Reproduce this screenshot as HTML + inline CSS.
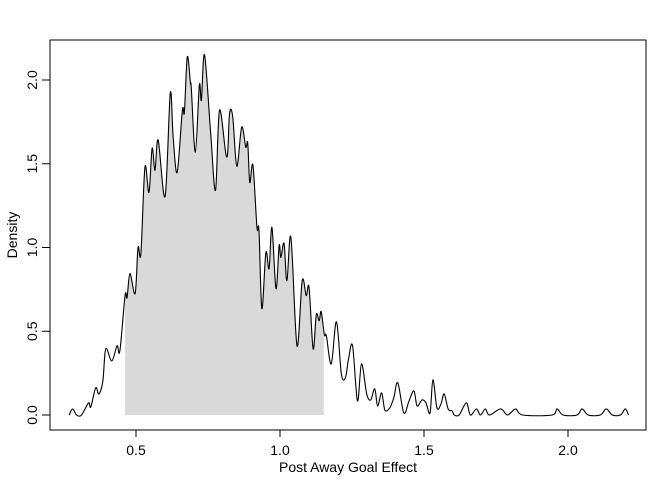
<!DOCTYPE html>
<html><head><meta charset="utf-8"><style>
body{margin:0;background:#fff}
svg{display:block;font-family:"Liberation Sans",Arial,sans-serif}
</style></head><body>
<svg id="chart" width="672" height="480" viewBox="0 0 672 480">
<defs><clipPath id="shadeClip"><rect id="clipRect" x="0" y="0" width="0" height="480"/></clipPath></defs>
<g id="shade" clip-path="url(#shadeClip)"></g>
<g id="marks"></g>
<rect x="50" y="40" width="596" height="390" fill="none" stroke="#000" stroke-width="1"/>
<g id="axes"></g>
<text x="348" y="472" font-size="14" text-anchor="middle">Post Away Goal Effect</text>
<text transform="translate(17,235) rotate(-90)" font-size="14" text-anchor="middle">Density</text>
</svg>
<script>
const effectValues=[0.268,0.280,0.294,0.311,0.335,0.343,0.360,0.371,0.385,0.395,0.416,0.434,0.444,0.462,0.469,0.479,0.497,0.507,0.517,0.531,0.545,0.556,0.566,0.577,0.601,0.619,0.629,0.643,0.661,0.668,0.678,0.689,0.692,0.706,0.720,0.727,0.738,0.759,0.776,0.790,0.815,0.825,0.836,0.850,0.867,0.881,0.888,0.895,0.906,0.920,0.927,0.937,0.951,0.962,0.972,0.986,0.997,1.003,1.014,1.024,1.038,1.059,1.077,1.091,1.101,1.115,1.126,1.136,1.143,1.154,1.161,1.178,1.196,1.213,1.227,1.238,1.252,1.269,1.283,1.301,1.315,1.329,1.339,1.353,1.364,1.381,1.395,1.409,1.430,1.448,1.465,1.476,1.493,1.507,1.521,1.531,1.545,1.559,1.570,1.584,1.598,1.605,1.622,1.647,1.661,1.682,1.696,1.713,1.727,1.766,1.790,1.818,1.843,1.944,1.962,1.983,2.031,2.049,2.070,2.112,2.133,2.154,2.182,2.199,2.210];
const densityValues=[0,0.036,0,0,0.072,0.048,0.162,0.126,0.204,0.395,0.323,0.413,0.383,0.713,0.701,0.844,0.725,1.0,0.964,1.479,1.329,1.593,1.461,1.641,1.305,1.922,1.659,1.449,1.820,1.808,2.138,1.982,1.952,1.569,1.970,1.880,2.150,1.689,1.341,1.820,1.539,1.802,1.778,1.485,1.719,1.599,1.623,1.389,1.491,1.120,1.102,0.635,0.970,0.874,1.120,0.754,1.012,0.940,1.024,0.802,1.060,0.413,0.802,0.713,0.760,0.395,0.599,0.563,0.617,0.479,0.473,0.305,0.557,0.246,0.222,0.335,0.413,0.084,0.305,0.126,0.090,0.156,0.054,0.132,0.030,0.042,0.102,0.192,0.012,0.084,0.144,0.054,0.090,0.072,0.012,0.210,0.042,0.066,0.126,0.036,0.024,0,0,0.072,0,0.036,0,0.036,0,0.036,0,0.036,0,0,0.036,0,0,0.036,0,0,0.036,0,0,0.036,0];
const shadeRange=[0.462,1.152];
const xTicks=[0.5,1.0,1.5,2.0];
const yTicks=[0,0.5,1.0,1.5,2.0];
const yTickLabels=["0.0","0.5","1.0","1.5","2.0"];
const xTickLabels=["0.5","1.0","1.5","2.0"];

const NS="http://www.w3.org/2000/svg";
function xs(v){return -8+288*v;}
function ys(d){return 415-167.5*d;}
function mk(tag,attrs,parent){const e=document.createElementNS(NS,tag);for(const k in attrs)e.setAttribute(k,attrs[k]);parent.appendChild(e);return e;}
const pts=effectValues.map((v,i)=>[xs(v),ys(densityValues[i])]);
function spline(p){let d="M"+p[0][0].toFixed(2)+","+p[0][1].toFixed(2);
 for(let i=0;i<p.length-1;i++){const p0=p[Math.max(0,i-1)],p1=p[i],p2=p[i+1],p3=p[Math.min(p.length-1,i+2)];
  const c1=[p1[0]+(p2[0]-p0[0])/6,p1[1]+(p2[1]-p0[1])/6],c2=[p2[0]-(p3[0]-p1[0])/6,p2[1]-(p3[1]-p1[1])/6];
  d+="C"+c1[0].toFixed(2)+","+c1[1].toFixed(2)+" "+c2[0].toFixed(2)+","+c2[1].toFixed(2)+" "+p2[0].toFixed(2)+","+p2[1].toFixed(2);}
 return d;}
const curveD=spline(pts);
const cr=document.getElementById('clipRect');
cr.setAttribute('x',xs(shadeRange[0]));cr.setAttribute('width',xs(shadeRange[1])-xs(shadeRange[0]));
const area=mk('path',{d:curveD+"L"+pts[pts.length-1][0]+","+ys(0)+"L"+pts[0][0]+","+ys(0)+"Z",fill:"#d9d9d9",stroke:"none"},document.getElementById('shade'));


const line=mk('path',{d:curveD,fill:"none",stroke:"#000","stroke-width":"1.1"},document.getElementById('marks'));


const ax=document.getElementById('axes');
const xa=mk('line',{x1:xs(xTicks[0]),x2:xs(xTicks[xTicks.length-1]),y1:430,y2:430,stroke:"#000"},ax);


xTicks.forEach((t,i)=>{const l=mk('line',{x1:xs(t),x2:xs(t),y1:430,y2:437,stroke:"#000"},ax);
 
 
 const tx=mk('text',{x:xs(t),y:455,"font-size":"14","text-anchor":"middle"},ax);tx.textContent=xTickLabels[i];
 
 });
const ya=mk('line',{x1:50,x2:50,y1:ys(yTicks[0]),y2:ys(yTicks[yTicks.length-1]),stroke:"#000"},ax);


yTicks.forEach((t,i)=>{const l=mk('line',{x1:42,x2:50,y1:ys(t),y2:ys(t),stroke:"#000"},ax);
 
 
 const tx=mk('text',{transform:"translate(37,"+ys(t)+") rotate(-90)","font-size":"14","text-anchor":"middle"},ax);tx.textContent=yTickLabels[i];
 
 });
</script>
</body></html>
